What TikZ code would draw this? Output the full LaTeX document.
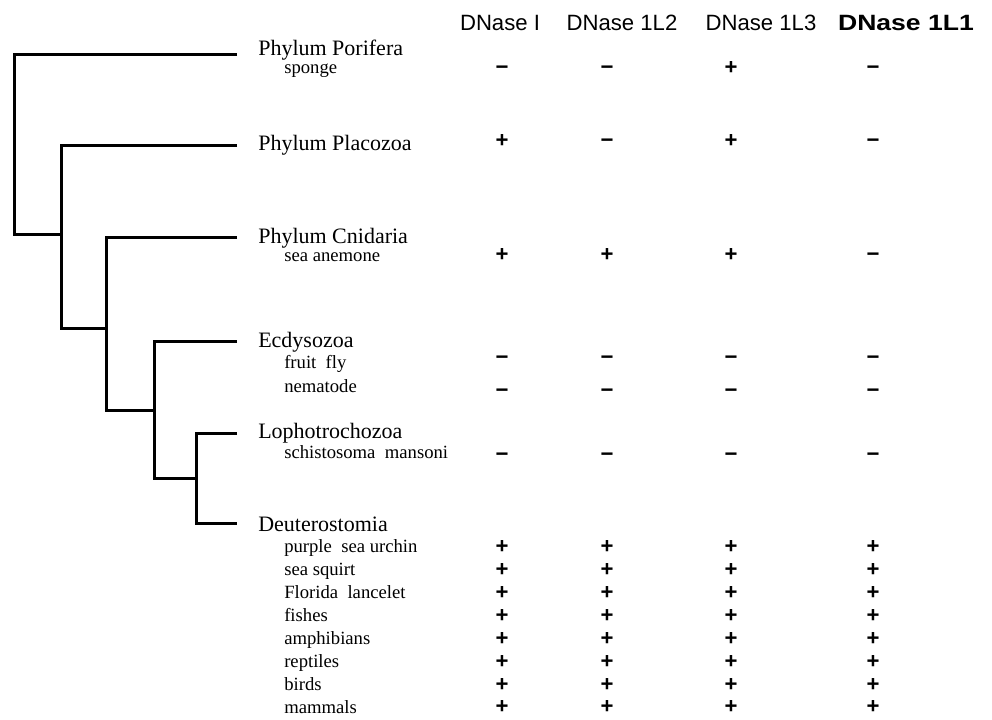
\documentclass[tikz,border=0pt]{standalone}
\usepackage{fontspec}
\setmainfont{Liberation Serif}
\setsansfont{Liberation Sans}
\usepackage{tikz}
\tikzset{
clade/.style={line width=2.25pt},
taxon/.style={anchor=base west,inner sep=0pt,font=\fontsize{16.5}{18}\selectfont},
species/.style={anchor=base west,inner sep=0pt,font=\fontsize{14}{16}\selectfont},
enzyme/.style={anchor=base,inner sep=0pt,font=\sffamily\fontsize{16.6}{18}\selectfont},
sign/.style={inner sep=0pt,text height=0.7em,text depth=0pt,font=\sffamily\bfseries\fontsize{16.6}{18}\selectfont},
}

\begin{document}
\begin{tikzpicture}[x=0.75pt,y=-0.75pt]
\useasboundingbox (0,0) rectangle (992,719);
% the enzymes
\node[enzyme] (h1) at (500,30) {DNase I};
\node[enzyme] (h2) at (622,30) {DNase 1L2};
\node[enzyme] (h3) at (761,30) {DNase 1L3};
\node[enzyme,font=\sffamily\bfseries\fontsize{16.6}{18}\selectfont] (h4) at (906,30) {\scalebox{1.2}[1]{DNase 1L1}};
% the taxa
\node[taxon] (por) at (258,55) {Phylum Porifera};
\node[taxon] (pla) at (258,150) {Phylum Placozoa};
\node[taxon] (cni) at (258,243) {Phylum Cnidaria};
\node[taxon] (ecd) at (258,347) {Ecdysozoa};
\node[taxon] (lop) at (258,438) {Lophotrochozoa};
\node[taxon] (deu) at (258,531) {Deuterostomia};
\node[species] (spo) at (284,73) {sponge};
\node[species] (ane) at (284,261) {sea anemone};
\node[species] (fly) at (284,368) {fruit\ \ fly};
\node[species] (nem) at (284,392) {nematode};
\node[species] (sch) at (284,458) {schistosoma\ \ mansoni};
\foreach \t [count=\i from 0] in {purple\ \ sea urchin,sea squirt,Florida\ \ lancelet,fishes,amphibians,reptiles,birds,mammals}
{
  \node[species] (v-\i) at (284,{552+23.1*\i}) {\t};
}
% the signs
\foreach \y/\p/\q/\u/\v [count=\r] in {70/−/−/+/−,143/+/−/+/−,257/+/+/+/−,360/−/−/−/−,393/−/−/−/−,457/−/−/−/−}
{
  \foreach \x/\s [count=\k] in {502/\p,607/\q,731/\u,873/\v}
    \node[sign] (s-\r-\k) at (\x,\y) {\s};
}
\foreach \i in {0,...,7}
{
  \foreach \x [count=\k] in {502,607,731,873}
    \node[sign] (d-\i-\k) at (\x,{549+22.9*\i}) {+};
}
% the tree
\coordinate (lPor) at (237,54);
\coordinate (lPla) at (237,145);
\coordinate (lCni) at (237,237);
\coordinate (lEcd) at (237,341);
\coordinate (lLop) at (237,433);
\coordinate (lDeu) at (237,523);
\coordinate (kA) at (14,234);
\coordinate (kB) at (61,328);
\coordinate (kC) at (106,410);
\coordinate (kD) at (154,478);
\coordinate (kE) at (196,478);
\draw[clade] (lPor) -| (kA) -- (kB |- kA);
\draw[clade] (lPla) -| (kB) -- (kC |- kB);
\draw[clade] (lCni) -| (kC) -- (kD |- kC);
\draw[clade] (lEcd) -| (kD) -- (kE);
\draw[clade] (lLop) -| (kE) |- (lDeu);
\end{tikzpicture}
\end{document}
